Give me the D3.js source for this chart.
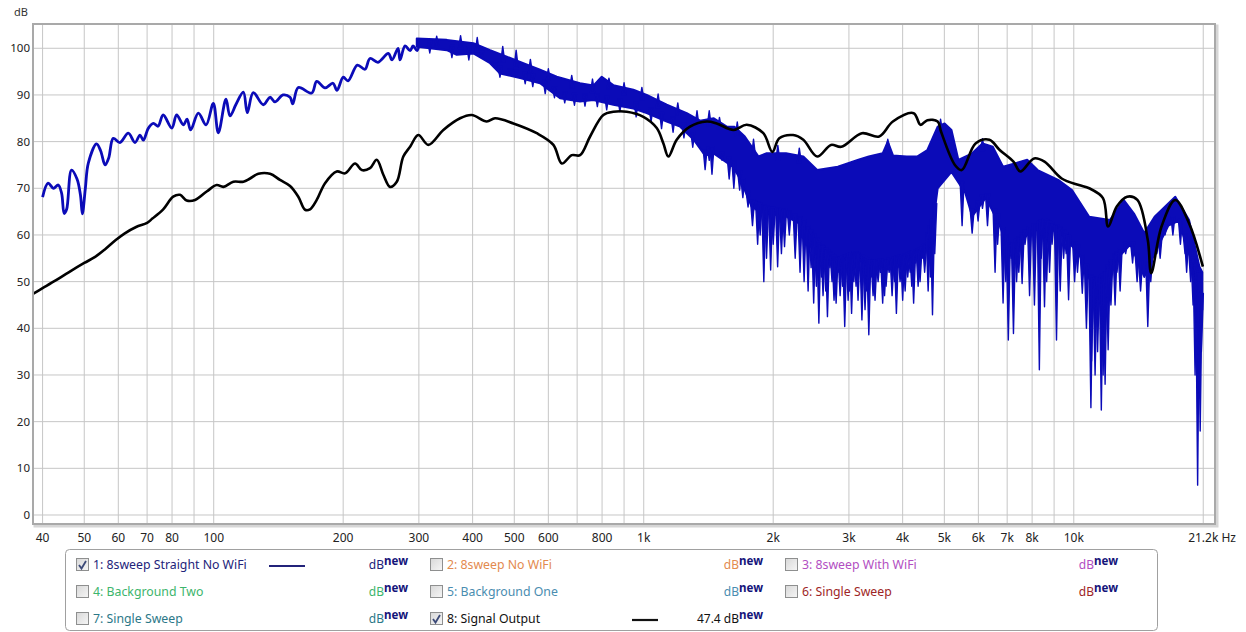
<!DOCTYPE html>
<html>
<head>
<meta charset="utf-8">
<script src="https://cdn.jsdelivr.net/npm/d3@7"></script>
<style>
body { margin: 0; background: #fff; }
text { font-family: "Noto Sans", sans-serif; }
</style>
</head>
<body>
<svg id="chart" width="1246" height="632"></svg>
<script>
// ---- data (Hz, dB) ----
var blueLine = [[40,68.1],[41.2,71.1],[42.4,70.0],[43.5,70.7],[44.3,68.9],[44.9,64.6],[45.5,65.5],[46.7,73.9],[48.1,72.0],[49.0,68.5],[49.5,64.5],[50.3,70.0],[51.1,75.4],[53.4,79.5],[54.6,78.0],[55.9,75.0],[57.0,76.5],[58.4,80.7],[60.5,79.8],[63.3,81.8],[65.6,79.8],[67.4,81.4],[68.6,80.3],[70.5,82.9],[72.4,83.9],[74.2,83.3],[76.3,85.7],[79.9,82.9],[82.0,85.7],[85.0,83.6],[86.7,84.8],[88.4,82.5],[92.1,86.1],[96.0,83.6],[99.8,88.2],[102.5,81.9],[106.8,89.1],[109.1,85.5],[112.7,88.0],[117.2,90.6],[119.7,86.2],[123.6,90.5],[130.4,87.9],[135.2,89.5],[138.8,88.5],[144.9,90.0],[150.5,89.5],[152.7,88.1],[157.3,91.6],[169.0,90.4],[173.6,92.9],[181.5,91.5],[189.4,92.5],[193.5,91.0],[200.1,93.8],[205.3,93.0],[215.8,96.4],[224.8,95.5],[230.9,97.8],[241.0,97.0],[254.7,98.9],[259.8,97.5],[268.3,100.0],[271.2,97.5],[278.6,100.5],[286.2,99.5],[290.8,100.5],[297.1,99.5],[301.9,101.8]];

// dense part of the blue trace: top and bottom of the filled band
var blueUpper = [[296.6,102.1],[348.3,101.8],[401.6,101.1],[439.2,99.6],[480.2,98.2],[524.8,96.8],[573.9,95.4],[627.7,93.9],[710.9,92.5],[763.5,92.0],[798.6,93.9],[849.8,92.1],[945.9,91.1],[1016,90.0],[1131,87.9],[1259,86.1],[1352,84.5],[1455,85.0],[1560,83.2],[1625,83.2],[1718,81.1],[1849,76.8],[1932,77.5],[2142,77.5],[2350,76.8],[2531,73.9],[2827,74.6],[3157,76.1],[3337,76.8],[3594,77.5],[3694,80.0],[3800,77.0],[4088,76.8],[4321,76.8],[4566,78.2],[4825,83.2],[5007,83.9],[5195,82.5],[5390,76.1],[5803,77.5],[6133,79.6],[6480,78.9],[6848,74.6],[7792,76.1],[8240,73.9],[9198,71.8],[9904,69.6],[10860,63.9],[12134,63.2],[13062,67.5],[13804,64.6],[14588,60.4],[15414,63.9],[17219,68.2],[18538,63.2],[19597,53.2],[19900,52.0]];
var blueLower = [[296.6,100.3],[348.3,99.6],[367.4,98.6],[401.6,98.9],[439.2,96.8],[463.3,94.6],[515.6,93.6],[573.9,92.5],[638.8,89.3],[710.9,88.6],[763.5,88.9],[849.8,87.9],[945.9,87.1],[1016,86.1],[1131,84.3],[1215,83.2],[1304,80.5],[1389,77.0],[1451,77.5],[1616,74.5],[1675,72.0],[1783,66.0],[1955,64.5],[2142,64.0],[2350,62.0],[2577,56.5],[2827,53.5],[3100,55.0],[3399,53.0],[3728,53.5],[4088,54.5],[4481,56.0],[4700,62.0],[4825,70.0],[5195,73.5],[5594,69.0],[5803,64.0],[6245,68.0],[6725,62.0],[7112,56.0],[7792,60.0],[8549,62.0],[9373,60.0],[10277,56.0],[11066,49.0],[11691,50.0],[12357,54.0],[13548,58.0],[14588,51.0],[15414,56.0],[16596,62.0],[17539,63.0],[18538,56.0],[19597,50.0],[19900,44.0]];
// notches below the band
var blueSpikes = [[318,99],[358,98],[392,97.5],[420,98],[452,96],[463,93.8],[490,94.8],[505,94.2],[530,92.4],[552,91.8],[590,90.3],[620,89.4],[655,88.3],[690,87.8],[730,87.6],[780,87.5],[820,86.8],[880,86.4],[960,85.3],[1040,84.3],[1100,82.8],[1170,82],[1240,80.8],[1300,78.8],[1389,74],[1420,76],
    [1441,73],[1521,76],[1580,72],[1620,70],[1671,69.6],[1700,68],[1748,66],[1790,62],[1816,65.4],[1840,58],[1865,60],[1902,50],[1930,55],[1973,52.5],[2000,58],[2048,53.2],[2090,56],[2125,57.5],[2180,60],
    [2250,55],[2309,52],[2360,50],[2411,48],[2450,53],[2484,45.4],[2520,49],[2554,41.1],[2590,51],[2612,47],[2650,48],[2674,42.5],[2710,53],[2741,50],[2770,46],[2801,45.4],[2830,52],[2862,47],[2900,49],[2933,40.4],[2960,53],[2987,46],[3010,48],[3043,43.2],[3080,50],[3117,49],[3150,46],[3216,41.8],[3240,52],[3270,44],[3300,48],[3337,38.6],[3380,51],[3414,47],[3450,46],[3507,50],[3550,52],[3594,45.4],[3630,47],[3660,49],[3720,52],[3780,47],[3830,50],[3868,43.2],[3900,53],[3945,50],[4000,46],[4053,48],[4110,51],[4163,52],[4200,49],[4242,45.4],[4290,54],[4345,49],[4390,50],[4440,55],[4500,52],[4585,48],[4640,51],[4693,42.9],[4750,56],
    [5499,62],[5803,60.4],[5990,63],[6133,65.7],[6300,62],[6561,52],[6650,58],[6848,45.4],[6950,50],[7043,37.5],[7150,55],[7240,38.9],[7362,50],[7450,52],[7583,49.6],[7700,58],[7892,47],[8100,45],[8316,31.1],[8400,55],[8549,44.6],[8650,50],[8783,52],[8900,58],[9116,37.5],[9300,48],[9469,55],[9600,56],[9725,46.1],[10044,50],[10200,52],[10466,47.5],[10700,40],[10960,23],[11000,33],[11208,30],[11359,35],[11400,42],[11588,22.5],[11700,30],[11825,28],[12019,35.4],[12200,45],[12474,45],[12600,52],[12815,48],[13200,56],[13700,54],[14036,50],[14300,48],[14862,40.4],[15100,50],[15600,56],[15878,55],[16300,60],[17000,60],[17700,58],[18145,56],[18300,52],[18700,50],[18940,45],[19145,30],[19300,40],[19408,6.4],[19550,25],[19676,18],[19800,35]];
// peaks above the band
var blueSpikesUp = [[330,102.6],[375,102.7],[410,102.3],[470,100.4],[505,99.6],[545,97.6],[600,95.6],[680,94.2],[760,93.4],[830,93.6],[900,92.6],[990,91.6],[1080,90.2],[1200,88.3],[1330,86.6],[1420,86.6],[1500,85.2],[1650,84.2],[1800,80.5],[2050,79.2],[2300,78.6],[3694,80.5],[4900,84.8],[6133,80.6]];

var blackLine = [[38,47.4],[40,48.6],[43,50.3],[46,52.0],[50,54.0],[53,55.3],[56,57.0],[59,58.8],[62,60.3],[66,61.7],[70,62.6],[72,63.5],[76.3,65.5],[80.5,68.2],[83.5,68.6],[86.5,67.4],[90.5,67.5],[96.3,69.3],[101.6,70.7],[105.3,70.3],[111.1,71.4],[117.2,71.4],[121.5,72.1],[127,73.1],[135.2,73.1],[142.6,71.8],[150.5,70.5],[157.3,68.2],[163.1,65.4],[167.5,65.5],[173.6,67.5],[181.5,71.1],[193.2,73.6],[202,73.2],[213.2,75.3],[221,73.9],[230.9,74.3],[239.4,76.1],[248,72.9],[257,70.3],[266.5,71.4],[276,76.8],[286.2,78.9],[299.1,81.4],[315.6,79.3],[342,82.5],[374,85.0],[398,85.7],[431.4,84.3],[451,85.0],[497.6,83.9],[563.9,81.8],[616.5,79.3],[644.8,75.3],[680.2,77.1],[710.9,77.1],[750.3,81.1],[805.4,85.7],[849.8,86.4],[913,86.4],[998,85.3],[1072,82.9],[1111,79.6],[1141,76.8],[1193,80.4],[1281,83.2],[1401,84.3],[1478,83.9],[1616,82.5],[1736,83.6],[1897,81.8],[1991,77.8],[2066,80.7],[2225,81.4],[2350,80.4],[2531,76.8],[2725,79.3],[2880,78.9],[3216,81.8],[3527,81.1],[3796,84.3],[4242,86.1],[4401,83.6],[4566,84.6],[4825,84.3],[4914,82.1],[5291,75.0],[5489,73.9],[5909,79.6],[6364,80.4],[6725,78.2],[7240,75.7],[7510,73.6],[8086,76.4],[8549,75.7],[9373,72.1],[10277,70.7],[10860,70.0],[11691,67.9],[12019,61.8],[12589,66.1],[13305,68.2],[14056,67.5],[14862,58.9],[15136,51.8],[15996,61.8],[17219,67.5],[18538,62.5],[19962,53.2]];

var gridFreqs = [40,50,60,70,80,90,100,200,300,400,500,600,700,800,900,1000,2000,3000,4000,5000,6000,7000,8000,9000,10000,20000];
var labelFreqs = [40,50,60,70,80,100,200,300,400,500,600,800,1000,2000,3000,4000,5000,6000,7000,8000,10000];
var labelTexts = ["40","50","60","70","80","100","200","300","400","500","600","800","1k","2k","3k","4k","5k","6k","7k","8k","10k"];
var dbTicks = [0,10,20,30,40,50,60,70,80,90,100];

var legendNames = ["1: 8sweep Straight No WiFi","2: 8sweep No WiFi","3: 8sweep With WiFi","4: Background Two","5: Background One","6: Single Sweep","7: Single Sweep","8: Signal Output"];
var legendColors = ["#23237a","#e38a4e","#b24ec2","#3db56c","#4a8db0","#9e2626","#2b7888","#111111"];
var legendChecked = [true,false,false,false,false,false,false,true];
var legendValues = ["","","","","","","","47.4 "];

// ---- layout ----
var svg = d3.select('#chart');
var L = 33, R = 1215, T = 24, B = 524;
var blue = "#0b0bb8";

var x = d3.scaleLog().domain([38, 21300]).range([L, R]);
var y = d3.scaleLinear().domain([-1.93, 105.2]).range([B, T]);

// frame shadow + background
svg.append('rect').attr('x', L+2).attr('y', T+2).attr('width', R-L).attr('height', B-T)
    .attr('fill', 'none').attr('stroke', '#d6d6d6').attr('stroke-width', 3);
svg.append('rect').attr('x', L).attr('y', T).attr('width', R-L).attr('height', B-T)
    .attr('fill', '#fff');

// grid
svg.append('g').selectAll('line').data(gridFreqs).enter().append('line')
    .attr('x1', d => x(d)).attr('x2', d => x(d)).attr('y1', T).attr('y2', B)
    .attr('stroke', '#c6c6c6').attr('stroke-width', 1);
svg.append('g').selectAll('line').data(dbTicks).enter().append('line')
    .attr('x1', L).attr('x2', R).attr('y1', d => y(d)).attr('y2', d => y(d))
    .attr('stroke', '#c6c6c6').attr('stroke-width', 1);

// axis labels
svg.append('text').attr('x', 14).attr('y', 16).text('dB')
    .attr('font-family', 'DejaVu Sans').attr('font-size', '11px').attr('fill', '#333');
svg.append('g').selectAll('text').data(dbTicks).enter().append('text')
    .attr('x', 30).attr('y', d => y(d)).attr('dy', '0.35em')
    .attr('text-anchor', 'end').attr('font-family', 'DejaVu Sans').attr('font-size', '11.5px')
    .attr('fill', '#222').text(d => d);
svg.append('g').selectAll('text').data(labelFreqs).enter().append('text')
    .attr('x', d => x(d)).attr('y', 542)
    .attr('text-anchor', 'middle').attr('font-size', '12px').attr('fill', '#222')
    .text((d, i) => labelTexts[i]);
svg.append('text').attr('x', x(21300) + 21).attr('y', 542).attr('text-anchor', 'end')
    .attr('font-size', '12px').attr('fill', '#222').text('21.2k Hz');

// ---- curves ----
var plot = svg.append('g');
var line = d3.line().x(d => x(d[0])).y(d => y(d[1]));
var smooth = d3.line().x(d => x(d[0])).y(d => y(d[1])).curve(d3.curveCatmullRom.alpha(0.5));

function envAt(arr, f) {
    var i = d3.bisector(d => d[0]).left(arr, f);
    if (i <= 0) return arr[0][1];
    if (i >= arr.length) return arr[arr.length-1][1];
    var a = arr[i-1], b = arr[i];
    var t = (Math.log(f) - Math.log(a[0])) / (Math.log(b[0]) - Math.log(a[0]));
    return a[1] + t * (b[1] - a[1]);
}

function spikePath(env, off, w) {
    return function(d) {
        var px = x(d[0]), base = y(envAt(env, d[0]) + off), tip = y(d[1]);
        return 'M' + (px-w) + ',' + base + 'L' + px + ',' + tip + 'L' + (px+w) + ',' + base + 'Z';
    };
}

plot.append('path').datum(blueLine).attr('d', smooth)
    .attr('fill', 'none').attr('stroke', blue).attr('stroke-width', 2.8)
    .attr('stroke-linejoin', 'round');

var band = blueUpper.concat(blueLower.slice().reverse());
plot.append('path').datum(band).attr('d', d => line(d) + 'Z')
    .attr('fill', blue).attr('stroke', blue).attr('stroke-width', 2)
    .attr('stroke-linejoin', 'round');

plot.append('g').selectAll('path').data(blueSpikes).enter().append('path')
    .attr('d', spikePath(blueLower, 1.5, 2))
    .attr('fill', blue).attr('stroke', blue).attr('stroke-width', 1.4)
    .attr('stroke-linejoin', 'round');
plot.append('g').selectAll('path').data(blueSpikesUp).enter().append('path')
    .attr('d', spikePath(blueUpper, -1.5, 2))
    .attr('fill', blue).attr('stroke', blue).attr('stroke-width', 1.4)
    .attr('stroke-linejoin', 'round');

plot.append('path').datum(blackLine).attr('d', smooth)
    .attr('fill', 'none').attr('stroke', '#000').attr('stroke-width', 2.6)
    .attr('stroke-linejoin', 'round');

// frame border on top
svg.append('rect').attr('x', L).attr('y', T).attr('width', R-L).attr('height', B-T)
    .attr('fill', 'none').attr('stroke', '#a9a9a9').attr('stroke-width', 2);

// ---- legend ----
svg.append('rect').attr('x', 65.5).attr('y', 549.5).attr('width', 1092).attr('height', 81)
    .attr('rx', 4).attr('fill', '#fff').attr('stroke', '#a0a0a0').attr('stroke-width', 1);

var colX = [76, 430, 785];
var rowY = [565, 592, 619];
var unitEnd = [408, 763, 1118];

var grad = svg.append('defs').append('linearGradient').attr('id', 'cbgrad')
    .attr('x1', 0).attr('y1', 0).attr('x2', 1).attr('y2', 1);
grad.append('stop').attr('offset', '0%').attr('stop-color', '#d8d8d8');
grad.append('stop').attr('offset', '100%').attr('stop-color', '#f6f6f6');

var items = svg.append('g').selectAll('g').data(legendNames).enter().append('g')
    .attr('transform', (d, i) => 'translate(0,' + rowY[Math.floor(i/3)] + ')');

items.append('rect')
    .attr('x', (d, i) => colX[i%3] + 0.5).attr('y', -6.5).attr('width', 12).attr('height', 12)
    .attr('fill', 'url(#cbgrad)').attr('stroke', '#8e8f8f').attr('stroke-width', 1);
items.filter((d, i) => legendChecked[i]).append('path')
    .attr('d', function(d) {
        var i = legendNames.indexOf(d), cx = colX[i%3];
        return 'M' + (cx+3) + ',0 L' + (cx+5.5) + ',3.5 L' + (cx+10) + ',-4';
    })
    .attr('fill', 'none').attr('stroke', '#3c4a78').attr('stroke-width', 1.8);

items.append('text')
    .attr('x', (d, i) => colX[i%3] + 17).attr('y', 0).attr('dy', '0.36em')
    .attr('font-size', '12.3px').attr('fill', (d, i) => legendColors[i])
    .text(d => d);

var lineSeg = [[269, 305], [632, 658]];
items.filter((d, i) => legendChecked[i]).append('line')
    .attr('x1', d => lineSeg[legendNames.indexOf(d) % 3][0])
    .attr('x2', d => lineSeg[legendNames.indexOf(d) % 3][1])
    .attr('y1', 1).attr('y2', 1)
    .attr('stroke', d => legendColors[legendNames.indexOf(d)]).attr('stroke-width', 2.2);

var unit = items.append('text')
    .attr('x', (d, i) => unitEnd[i%3]).attr('y', 0).attr('dy', '0.36em')
    .attr('text-anchor', 'end').attr('font-size', '12px');
unit.append('tspan').attr('fill', '#111').text((d, i) => legendValues[i]);
unit.append('tspan').attr('fill', (d, i) => legendColors[i]).text('dB');
unit.append('tspan').attr('fill', '#14147a').attr('font-weight', 'bold')
    .attr('font-size', '11.5px').attr('dy', '-4').text('new');
</script>
</body>
</html>
